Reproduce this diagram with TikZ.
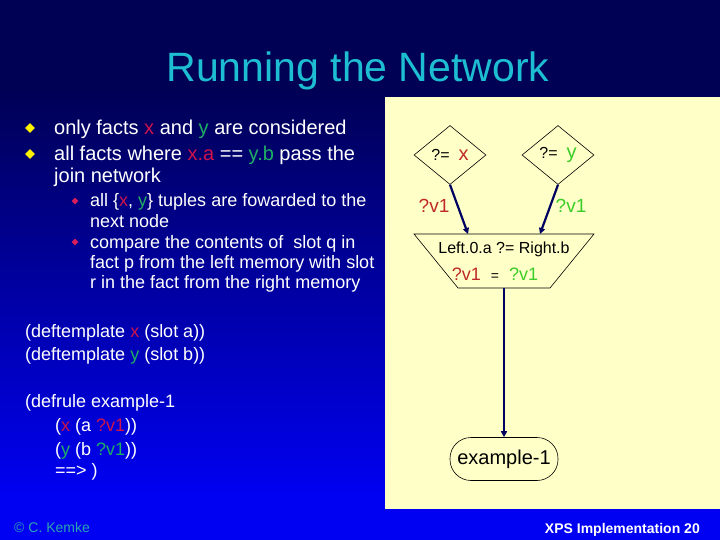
\documentclass[tikz,border=0pt]{standalone}
\usepackage{fontspec}
\setmainfont{Liberation Sans}
\usetikzlibrary{shapes.geometric,arrows.meta}

\definecolor{navybg}{RGB}{0,0,85}
\definecolor{bluebg}{RGB}{0,0,242}
\definecolor{panel}{RGB}{255,255,200}
\definecolor{titlec}{RGB}{30,190,210}
\definecolor{xcol}{RGB}{205,20,75}
\definecolor{ycol}{RGB}{30,175,100}
\definecolor{dred}{RGB}{190,40,40}
\definecolor{dgreen}{RGB}{60,205,40}
\definecolor{copyc}{RGB}{40,165,175}
\definecolor{arrowc}{RGB}{0,0,96}
\definecolor{bulred}{RGB}{215,30,90}

\newcommand{\setsz}[1]{\fontsize{#1}{#1}\selectfont}
\newcommand{\xt}[1]{\textcolor{xcol}{#1}}
\newcommand{\yt}[1]{\textcolor{ycol}{#1}}

\begin{document}
\begin{tikzpicture}[x=1pt,y=-1pt,
	txt/.style={anchor=base west, inner sep=0pt, text=white},
	ybul/.style={diamond, fill=yellow, inner sep=0pt, minimum size=10pt},
	sbul/.style={diamond, fill=bulred, inner sep=0pt, minimum size=7pt},
	cond/.style={diamond, draw=black, line width=0.6pt, inner sep=0pt, minimum width=72pt, minimum height=59pt},
	term/.style={rectangle, rounded corners=21pt, draw=black, line width=0.6pt, minimum width=108pt, minimum height=43pt, inner sep=0pt, font=\setsz{20}},
	conn/.style={draw=arrowc, line width=2.2pt, -{Triangle[length=6pt,width=6pt]}}]
		\useasboundingbox (0,0) rectangle (720,540);
		% background
		\fill[navybg] (0,0) rectangle (720,540);
		\shade[top color=navybg, bottom color=bluebg] (0,90) rectangle (720,495);
		\fill[bluebg] (0,495) rectangle (720,540);
		\fill[panel] (385,97) rectangle (720,509);
		
		\node[anchor=base, inner sep=0pt, font=\setsz{41}, text=titlec] (title) at (358,82) {Running the Network};
		
		% bullets
		\node[ybul] (b1) at (30,128) {};
		\node[ybul] (b2) at (30,154) {};
		\node[txt, font=\setsz{20}] (l1) at (54,135) {only facts \xt{x} and \yt{y} are considered};
		\node[txt, font=\setsz{20}] (l2) at (54,161) {all facts where \xt{x.a} == \yt{y.b} pass the};
		\node[txt, font=\setsz{20}] (l3) at (54,183) {join network};
		
		\node[sbul] (s1) at (75,201) {};
		\node[sbul] (s2) at (75,242) {};
		\node[txt, font=\setsz{18}] (m1) at (90,207) {all \{\xt{x}, \yt{y}\} tuples are fowarded to the};
		\node[txt, font=\setsz{18}] (m2) at (90,227) {next node};
		\node[txt, font=\setsz{18}] (m3) at (90,248) {compare the contents of\ \ slot q in};
		\node[txt, font=\setsz{18}] (m4) at (90,268) {fact p from the left memory with slot};
		\node[txt, font=\setsz{18}] (m5) at (90,288) {r in the fact from the right memory};
		
		% rule code
		\node[txt, font=\setsz{18}] (c1) at (25,337) {(deftemplate \xt{x} (slot a))};
		\node[txt, font=\setsz{18}] (c2) at (25,360) {(deftemplate \yt{y} (slot b))};
		\node[txt, font=\setsz{18}] (c3) at (25,407) {(defrule example-1};
		\node[txt, font=\setsz{18}] (c4) at (55,431) {(\xt{x} (a \xt{?v1}))};
		\node[txt, font=\setsz{18}] (c5) at (55,455) {(\yt{y} (b \yt{?v1}))};
		\node[txt, font=\setsz{18}] (c6) at (55,476) {==> )};
		
		% footer
		\node[txt, font=\setsz{14}, text=copyc] (copy) at (14,532) {© C. Kemke};
		\node[anchor=base east, inner sep=0pt, font=\setsz{14}\bfseries, text=white] (page) at (700,533) {XPS Implementation 20};
		
		% network
		\node[cond, font=\setsz{16}] (tx) at (450,155) {?=\ \ \textcolor{dred}{\setsz{20}x}};
		\node[cond, font=\setsz{16}] (ty) at (558,155) {?=\ \ \textcolor{dgreen}{\setsz{20}y}};
		\draw[line width=0.6pt] (414,234) -- (594,234) -- (550,288) -- (458,288) -- cycle;
		\coordinate (jl) at (468,234);
		\coordinate (jr) at (540,234);
		\coordinate (jb) at (504,288);
		\node[anchor=base, inner sep=0pt, font=\setsz{16}] (jtop) at (504,254) {Left.0.a ?= Right.b};
		\node[anchor=base, inner sep=0pt, font=\setsz{18}] (jbot) at (495,280) {\textcolor{dred}{?v1}\ \ {\setsz{14}=}\ \ \textcolor{dgreen}{?v1}};
		\node[term] (ex) at (504,459) {example-1};
		
		\node[anchor=base, inner sep=0pt, font=\setsz{19}, text=dred] (vx) at (434,213) {?v1};
		\node[anchor=base, inner sep=0pt, font=\setsz{19}, text=dgreen] (vy) at (571,213) {?v1};
		
		\draw[conn] (tx.south) -- (jl);
		\draw[conn] (ty.south) -- (jr);
		\draw[conn] (jb) -- (ex.north);
	\end{tikzpicture}
\end{document}
